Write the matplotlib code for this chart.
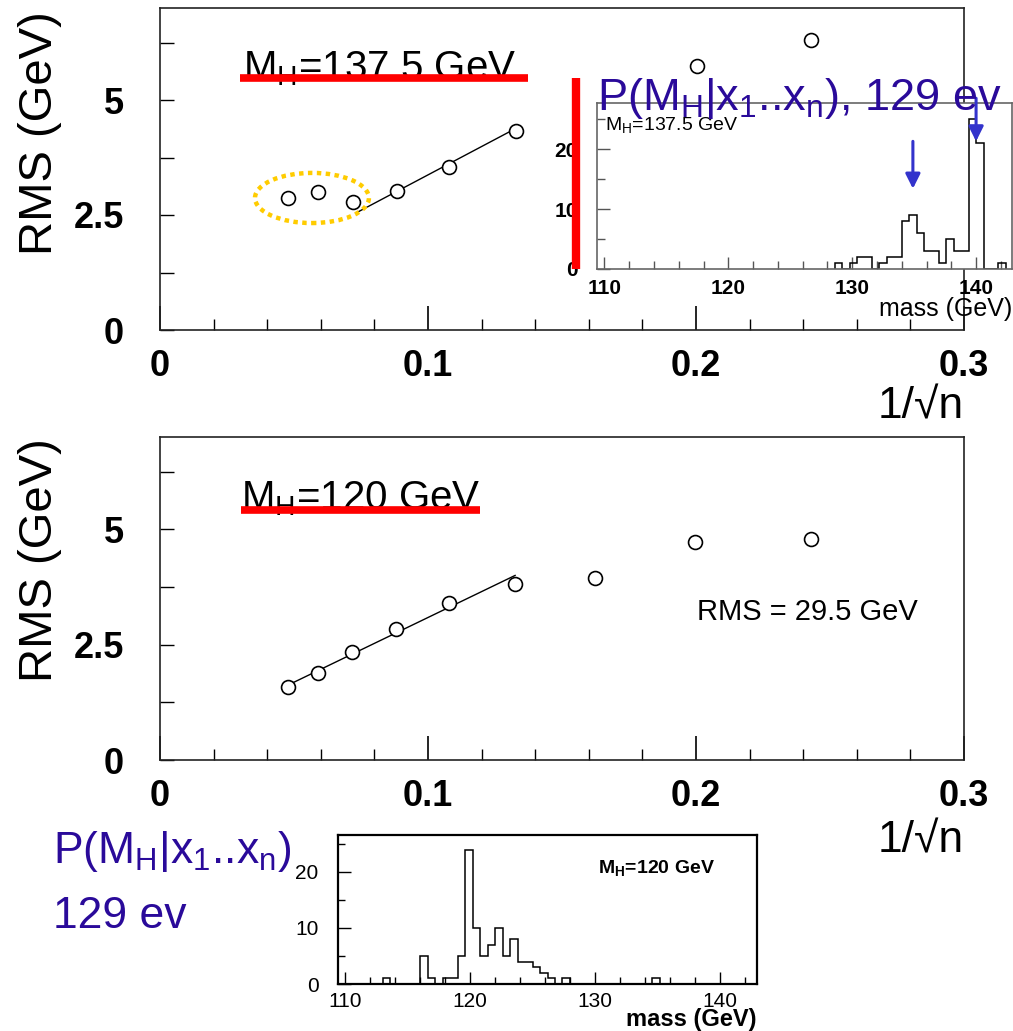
import numpy as np
import matplotlib
matplotlib.use("Agg")
import matplotlib.pyplot as plt
from matplotlib import font_manager
from matplotlib.patches import Ellipse
from matplotlib.lines import Line2D
from matplotlib.ticker import MultipleLocator

# ---------------- data ----------------
# top panel (M_H = 137.5 GeV)
x_top = [0.0479, 0.0588, 0.0719, 0.0883, 0.1078, 0.1327, 0.2002, 0.2428]
rms_top = [2.86, 3.01, 2.79, 3.02, 3.55, 4.33, 5.75, 6.30]
fit_top_x = [0.073, 0.1327]
fit_top_y = [2.54, 4.38]

# bottom panel (M_H = 120 GeV)
x_bot = [0.0479, 0.0590, 0.0717, 0.0879, 0.1079, 0.1325, 0.1623, 0.1998, 0.2428]
rms_bot = [1.59, 1.88, 2.33, 2.84, 3.41, 3.82, 3.95, 4.73, 4.80]
fit_bot_x = [0.048, 0.1325]
fit_bot_y = [1.63, 4.00]

# inset histograms: posterior P(M_H | x1..xn), bin width 0.6 GeV
bin_width = 0.6
hist_top_left = [128.6, 129.8, 130.4, 131.0, 132.2, 132.8, 133.4, 134.0, 134.6,
                 135.2, 135.8, 136.4, 137.0, 137.6, 138.2, 138.8, 139.4, 140.0, 141.8]
hist_top_cnt = [1, 1, 2, 2, 1, 2, 2, 8, 9, 6, 3, 3, 1, 5, 3, 3, 25, 21, 1]

hist_bot_left = [113.0, 116.0, 116.6, 117.8, 118.4, 119.0, 119.6, 120.2, 120.8, 121.4,
                 122.0, 122.6, 123.2, 123.8, 124.4, 125.0, 125.6, 126.2, 127.4, 134.6]
hist_bot_cnt = [1, 5, 1, 1, 1, 5, 24, 10, 5, 7, 10, 5, 8, 4, 4, 3, 2, 1, 1, 1]

xticks_main = [0, 0.1, 0.2, 0.3]
xticklabels_main = ["0", "0.1", "0.2", "0.3"]
yticks_main = [0, 2.5, 5]
yticklabels_main = ["0", "2.5", "5"]

# ---------------- fonts ----------------
avail = {f.name for f in font_manager.fontManager.ttflist}
NARROW = "Liberation Sans Narrow" if "Liberation Sans Narrow" in avail else "Liberation Sans"
SANS = "Liberation Sans" if "Liberation Sans" in avail else "DejaVu Sans"
plt.rcParams["font.family"] = [NARROW, "DejaVu Sans"]
plt.rcParams["mathtext.default"] = "regular"

W, H = 1013, 1031
fig = plt.figure(figsize=(W / 100, H / 100), dpi=100)


def rect(x0, y0, x1, y1):
    return [x0 / W, 1 - y1 / H, (x1 - x0) / W, (y1 - y0) / H]


def fx(px):
    return px / W


def fy(py):
    return 1 - py / H


BLUE_TXT = "#2a0a9a"
RED = "#ff0000"
ARROW = "#3333cc"


def style_main(ax):
    ax.set_xlim(0, 0.3)
    ax.set_ylim(0, 7)
    ax.set_xticks(xticks_main)
    ax.set_xticklabels(xticklabels_main)
    ax.set_yticks(yticks_main)
    ax.set_yticklabels(yticklabels_main)
    ax.xaxis.set_minor_locator(MultipleLocator(0.02))
    ax.yaxis.set_minor_locator(MultipleLocator(1.25))
    ax.tick_params(axis="x", which="major", direction="in", length=17, width=1.2,
                   labelsize=26, pad=14)
    ax.tick_params(axis="x", which="minor", direction="in", length=8, width=1.0)
    ax.tick_params(axis="y", which="both", direction="in", length=10, width=1.0,
                   labelsize=26, pad=26)
    for lab in ax.get_xticklabels() + ax.get_yticklabels():
        lab.set_fontweight("bold")
    for s in ax.spines.values():
        s.set_linewidth(1.2)
        s.set_color("#222222")


# ---------------- top main panel ----------------
ax1 = fig.add_axes(rect(160, 8, 964, 330))
style_main(ax1)
ax1.plot(fit_top_x, fit_top_y, color="black", lw=1.0, zorder=2)
ax1.plot(x_top, rms_top, linestyle="none", marker="o", ms=10, mfc="white",
         mec="black", mew=1.2, zorder=3)
ell = Ellipse((0.0567, 2.87), width=0.0425, height=1.09, fill=False,
              edgecolor="#ffcc00", lw=3.2, linestyle=(0, (1, 1)), zorder=4)
ax1.add_patch(ell)
ax1.text(-0.149, 0.61, "RMS (GeV)", transform=ax1.transAxes, rotation=90,
         ha="center", va="center", fontsize=34)
ax1.text(1.0, -0.24, "1/\u221an", transform=ax1.transAxes, ha="right",
         va="center", fontsize=32)
ax1.text(fx(243), fy(79), "M$_H$=137.5 GeV", transform=fig.transFigure,
         ha="left", va="baseline", fontsize=29)

# ---------------- bottom main panel ----------------
ax2 = fig.add_axes(rect(160, 437, 964, 760))
style_main(ax2)
ax2.plot(fit_bot_x, fit_bot_y, color="black", lw=1.0, zorder=2)
ax2.plot(x_bot, rms_bot, linestyle="none", marker="o", ms=10, mfc="white",
         mec="black", mew=1.2, zorder=3)
ax2.text(-0.149, 0.62, "RMS (GeV)", transform=ax2.transAxes, rotation=90,
         ha="center", va="center", fontsize=34)
ax2.text(1.0, -0.25, "1/\u221an", transform=ax2.transAxes, ha="right",
         va="center", fontsize=32)
ax2.text(fx(241), fy(509), "M$_H$=120 GeV", transform=fig.transFigure,
         ha="left", va="baseline", fontsize=29)
ax2.text(fx(697), fy(612), "RMS = 29.5 GeV", transform=fig.transFigure,
         ha="left", va="center", fontsize=21)


def hist_inset(ax, lefts, counts, xlo, xhi, ytop):
    lo = min(lefts)
    hi = max(lefts) + bin_width
    nb = int(round((hi - lo) / bin_width))
    edges = lo + bin_width * np.arange(nb + 1)
    centers = np.array(lefts) + bin_width / 2
    ax.hist(centers, bins=edges, weights=counts, histtype="step", color="black",
            lw=1.1)
    ax.set_xlim(xlo, xhi)
    ax.set_ylim(0, ytop)
    ax.xaxis.set_major_locator(MultipleLocator(10))
    ax.xaxis.set_minor_locator(MultipleLocator(2))
    ax.yaxis.set_major_locator(MultipleLocator(10))
    ax.yaxis.set_minor_locator(MultipleLocator(5))


# ---------------- top inset ----------------
axi1 = fig.add_axes(rect(597, 103, 1012, 269), zorder=5)
hist_inset(axi1, hist_top_left, hist_top_cnt, 109.4, 142.9, 27.7)
axi1.tick_params(which="major", direction="in", length=9, width=1.0,
                 labelsize=15, color="#555555")
axi1.tick_params(which="minor", direction="in", length=6, width=1.0, color="#555555")
axi1.tick_params(axis="y", pad=14)
axi1.tick_params(axis="x", pad=7)
for lab in axi1.get_xticklabels() + axi1.get_yticklabels():
    lab.set_fontweight("bold")
for s in axi1.spines.values():
    s.set_color("#666666")
    s.set_linewidth(1.2)
axi1.text(0.02, 0.87, "M$_H$=137.5 GeV", transform=axi1.transAxes,
          ha="left", va="center", fontsize=14)
axi1.text(1.0, -0.24, "mass (GeV)", transform=axi1.transAxes, ha="right",
          va="center", fontsize=18)
axi1.annotate("", xy=(134.9, 13.4), xytext=(134.9, 21.3),
              arrowprops=dict(arrowstyle="-|>", color=ARROW, lw=2.2,
                              mutation_scale=22, shrinkA=0, shrinkB=0))
axi1.annotate("", xy=(140.0, 21.3), xytext=(140.0, 28.5),
              arrowprops=dict(arrowstyle="-|>", color=ARROW, lw=2.2,
                              mutation_scale=22, shrinkA=0, shrinkB=0),
              annotation_clip=False)

# ---------------- bottom inset ----------------
axi2 = fig.add_axes(rect(338, 835, 757, 984), zorder=5)
hist_inset(axi2, hist_bot_left, hist_bot_cnt, 109.4, 143.0, 26.6)
axi2.tick_params(which="major", direction="in", length=9, width=1.0,
                 labelsize=15)
axi2.tick_params(which="minor", direction="in", length=5, width=1.0)
axi2.tick_params(axis="y", pad=14)
axi2.tick_params(axis="x", pad=6)
for s in axi2.spines.values():
    s.set_linewidth(1.6)
axi2.text(0.62, 0.78, "M$_H$=120 GeV", transform=axi2.transAxes,
          ha="left", va="center", fontsize=14, fontweight="bold")
axi2.text(1.0, -0.235, "mass (GeV)", transform=axi2.transAxes, ha="right",
          va="center", fontsize=17, fontweight="bold")

# ---------------- annotations (red marks, blue text) ----------------
fig.add_artist(Line2D([fx(240), fx(528)], [fy(78), fy(78)], color=RED, lw=5.5,
                      solid_capstyle="butt", zorder=10))
fig.add_artist(Line2D([fx(241), fx(480)], [fy(510), fy(510)], color=RED, lw=5.5,
                      solid_capstyle="butt", zorder=10))
fig.add_artist(Line2D([fx(576), fx(576)], [fy(78), fy(269)], color=RED, lw=6,
                      solid_capstyle="butt", zorder=10))

fig.text(fx(597), fy(110), "P(M$_H$|x$_1$..x$_n$), 129 ev", color=BLUE_TXT,
         fontsize=32.5, family=[SANS, "DejaVu Sans"], ha="left", va="baseline",
         zorder=11)
fig.text(fx(53), fy(863), "P(M$_H$|x$_1$..x$_n$)", color=BLUE_TXT,
         fontsize=32, family=[SANS, "DejaVu Sans"], ha="left", va="baseline",
         zorder=11)
fig.text(fx(53), fy(928), "129 ev", color=BLUE_TXT,
         fontsize=32, family=[SANS, "DejaVu Sans"], ha="left", va="baseline",
         zorder=11)

fig.savefig("out.png", dpi=100)
